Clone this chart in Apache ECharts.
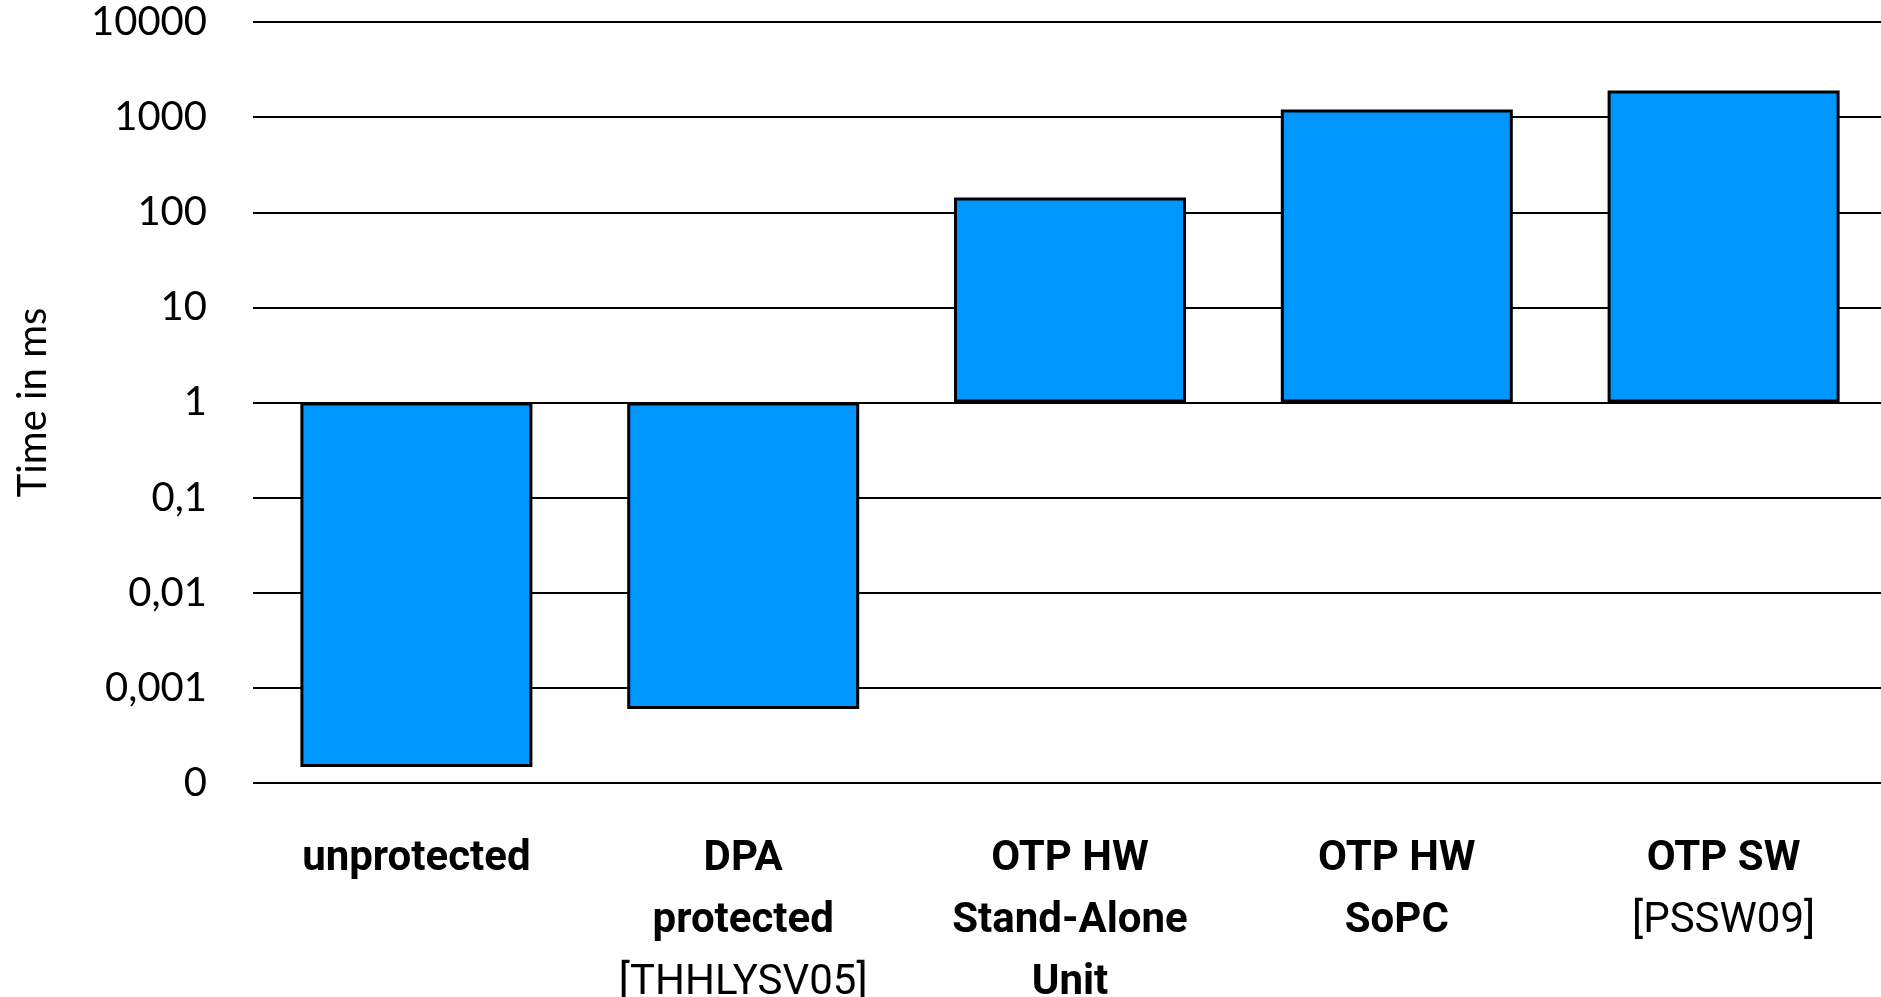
<!DOCTYPE html>
<html>
<head>
<meta charset="utf-8">
<script src="https://cdn.jsdelivr.net/npm/echarts@6/dist/echarts.min.js"></script>
<style>
  html, body { margin: 0; padding: 0; background: #fff; }
  #chart { width: 1881px; height: 997px; }
</style>
</head>
<body>
<div id="chart"></div>
<script>
// categories (lines starting with "[" are references, drawn non-bold)
const categories = [
  "unprotected",
  "DPA\nprotected\n[THHLYSV05]",
  "OTP HW\nStand-Alone\nUnit",
  "OTP HW\nSoPC",
  "OTP SW\n[PSSW09]"
];
// time in ms, bars drawn from 1 ms on a log scale
const timeMs = [0.000147, 0.0006, 143, 1200, 1900];
// tick labels for decades 10^-4 .. 10^4 (bottom one is shown as "0")
const yTickLabels = ["0", "0,001", "0,01", "0,1", "1", "10", "100", "1000", "10000"];

const chart = echarts.init(document.getElementById("chart"), null, { renderer: "canvas" });

const labelFont = "Lato, 'Open Sans', sans-serif";

chart.setOption({
  backgroundColor: "#fff",
  animation: false,
  grid: { left: 253, top: 22, width: 1634, height: 761, outerBoundsMode: "none", containLabel: false },
  xAxis: {
    type: "category",
    data: categories,
    axisLine: { show: false },
    axisTick: { show: false },
    axisLabel: {
      interval: 0,
      margin: 45,
      formatter: function (v) {
        return v.split("\n").map(function (s) {
          return s.charAt(0) === "[" ? "{n|" + s + "}" : "{b|" + s + "}";
        }).join("\n");
      },
      rich: {
        b: { fontFamily: "Roboto, sans-serif", fontWeight: "bold", fontSize: 42, lineHeight: 62, color: "#000" },
        n: { fontFamily: "Roboto, sans-serif", fontWeight: "normal", fontSize: 42, lineHeight: 62, color: "#000" }
      }
    }
  },
  yAxis: {
    type: "value",
    min: -4,
    max: 4,
    interval: 1,
    name: "Time in ms",
    nameLocation: "middle",
    nameRotate: 90,
    nameGap: 200,
    nameTextStyle: { fontFamily: labelFont, fontSize: 40, color: "#000" },
    axisLine: { show: false },
    axisTick: { show: false },
    axisLabel: {
      margin: 46,
      fontFamily: labelFont,
      fontSize: 40,
      color: "#000",
      formatter: function (v) { return yTickLabels[Math.round(v) + 4]; }
    },
    splitLine: { show: true, lineStyle: { color: "#000", width: 2 } }
  },
  series: [
    {
      type: "bar",
      barWidth: 232,
      data: timeMs.map(function (t) { return Math.log10(t); }),
      itemStyle: { color: "#0096FF", borderColor: "#000", borderWidth: 3 }
    }
  ]
});
</script>
</body>
</html>
